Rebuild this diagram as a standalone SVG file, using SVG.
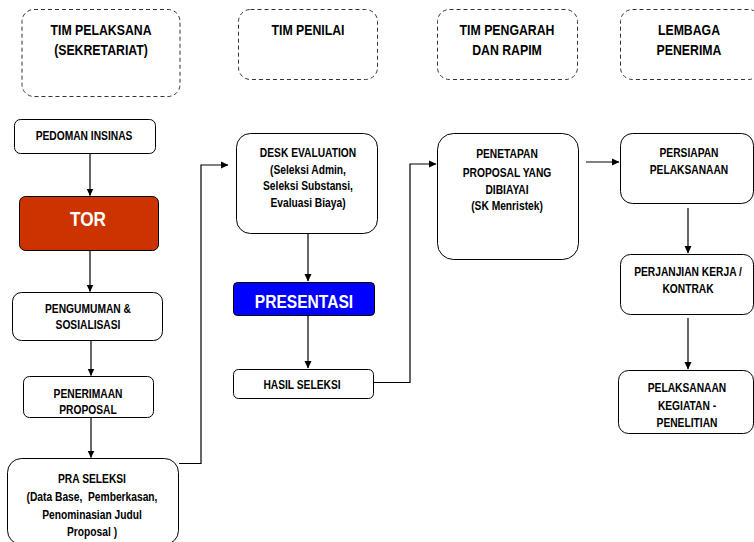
<svg xmlns="http://www.w3.org/2000/svg" width="754" height="542" viewBox="0 0 754 542">
<defs>
<marker id="ah" markerWidth="8" markerHeight="8" refX="7" refY="4" orient="auto" markerUnits="userSpaceOnUse">
<path d="M0,0.5 L7.5,4 L0,7.5 Z" fill="#000"/>
</marker>
<style>
text{font-family:"Liberation Sans",Arial,sans-serif;font-weight:bold;text-anchor:middle;fill:#000}
.hdr rect{fill:#fff;stroke:#333;stroke-width:1;stroke-dasharray:4 3}
.hdr text{font-size:15px}
.box rect{fill:#fff;stroke:#000;stroke-width:1}
.box text{font-size:12.5px}
.big text{fill:#fff;font-size:21px}
.con path{fill:none;stroke:#000;stroke-width:1.2}
</style>
</defs>
<rect width="754" height="542" fill="#fff"/>
<g class="hdr" id="h1"><rect x="22" y="9.5" width="158" height="87" rx="12"/><text transform="translate(101,35) scale(0.82,1)">TIM PELAKSANA</text><text transform="translate(101,55) scale(0.82,1)">(SEKRETARIAT)</text></g>
<g class="hdr" id="h2"><rect x="238.5" y="9.5" width="139" height="70" rx="12"/><text transform="translate(308,35) scale(0.82,1)">TIM PENILAI</text></g>
<g class="hdr" id="h3"><rect x="437.5" y="9.5" width="140" height="70" rx="12"/><text transform="translate(507,35) scale(0.82,1)">TIM PENGARAH</text><text transform="translate(507,55) scale(0.82,1)">DAN RAPIM</text></g>
<g class="hdr" id="h4"><rect x="620.5" y="9.5" width="140" height="70" rx="12"/><text transform="translate(689,35) scale(0.82,1)">LEMBAGA</text><text transform="translate(689,55) scale(0.82,1)">PENERIMA</text></g>

<g class="box" id="pedoman"><rect x="14.5" y="119.5" width="141" height="34" rx="6"/><text transform="translate(84,140) scale(0.82,1)">PEDOMAN INSINAS</text></g>
<g class="box big" id="tor"><rect x="19.5" y="196.5" width="139" height="54" rx="6" style="fill:#CC3300"/><text transform="translate(88,226) scale(0.82,1)">TOR</text></g>
<g class="box" id="pengumuman"><rect x="12.5" y="292.5" width="150" height="48" rx="9"/><text transform="translate(88,313) scale(0.82,1)">PENGUMUMAN &amp;</text><text transform="translate(88,329) scale(0.82,1)">SOSIALISASI</text></g>
<g class="box" id="penerimaan"><rect x="23.5" y="376.5" width="130" height="41" rx="6"/><text transform="translate(88,398) scale(0.82,1)">PENERIMAAN</text><text transform="translate(88,414) scale(0.82,1)">PROPOSAL</text></g>
<g class="box" id="praseleksi"><rect x="7.5" y="458.5" width="171" height="86" rx="14"/><text transform="translate(92,483) scale(0.82,1)">PRA SELEKSI</text><text transform="translate(92,501) scale(0.82,1)" xml:space="preserve">(Data Base,  Pemberkasan,</text><text transform="translate(92,519) scale(0.82,1)">Penominasian Judul</text><text transform="translate(92,536) scale(0.82,1)">Proposal )</text></g>

<g class="box" id="desk"><rect x="236.5" y="133.5" width="141" height="100" rx="14"/><text transform="translate(308,157) scale(0.82,1)">DESK EVALUATION</text><text transform="translate(308,174) scale(0.82,1)">(Seleksi Admin,</text><text transform="translate(308,190) scale(0.82,1)">Seleksi Substansi,</text><text transform="translate(308,207) scale(0.82,1)">Evaluasi Biaya)</text></g>
<g class="box big" id="presentasi"><rect x="233.5" y="282.5" width="141" height="33" rx="4" style="fill:#0000FF"/><text transform="translate(304,308) scale(0.82,1)" style="font-size:19px">PRESENTASI</text></g>
<g class="box" id="hasil"><rect x="233.5" y="369.5" width="140" height="29" rx="5"/><text transform="translate(302,389) scale(0.82,1)">HASIL SELEKSI</text></g>

<g class="box" id="penetapan"><rect x="437.5" y="133.5" width="141" height="126" rx="16"/><text transform="translate(507,158) scale(0.82,1)">PENETAPAN</text><text transform="translate(507,177) scale(0.82,1)">PROPOSAL YANG</text><text transform="translate(507,194) scale(0.82,1)">DIBIAYAI</text><text transform="translate(507,210) scale(0.82,1)">(SK Menristek)</text></g>

<g class="box" id="persiapan"><rect x="620.5" y="133.5" width="133" height="70" rx="12"/><text transform="translate(689,157) scale(0.82,1)">PERSIAPAN</text><text transform="translate(689,174) scale(0.82,1)">PELAKSANAAN</text></g>
<g class="box" id="perjanjian"><rect x="620.5" y="254.5" width="133" height="60" rx="10"/><text transform="translate(688,276) scale(0.82,1)">PERJANJIAN KERJA /</text><text transform="translate(688,293) scale(0.82,1)">KONTRAK</text></g>
<g class="box" id="pelaksanaan"><rect x="618.5" y="370.5" width="135" height="63" rx="10"/><text transform="translate(687,392) scale(0.82,1)">PELAKSANAAN</text><text transform="translate(687,410) scale(0.82,1)">KEGIATAN -</text><text transform="translate(687,427) scale(0.82,1)">PENELITIAN</text></g>

<g class="con" id="connectors">
<path d="M90,153.5 V195.5" marker-end="url(#ah)"/>
<path d="M90,250.5 V291.5" marker-end="url(#ah)"/>
<path d="M91,340.5 V375.5" marker-end="url(#ah)"/>
<path d="M91,417.5 V457.5" marker-end="url(#ah)"/>
<path d="M179,463.5 H201 V165 H228" marker-end="url(#ah)"/>
<path d="M308,233.5 V281" marker-end="url(#ah)"/>
<path d="M308,315.5 V368" marker-end="url(#ah)"/>
<path d="M374,382.5 H410 V164 H436" marker-end="url(#ah)"/>
<path d="M586,162 H619" marker-end="url(#ah)"/>
<path d="M688,208 V253" marker-end="url(#ah)"/>
<path d="M688,318 V369" marker-end="url(#ah)"/>
</g>
</svg>
